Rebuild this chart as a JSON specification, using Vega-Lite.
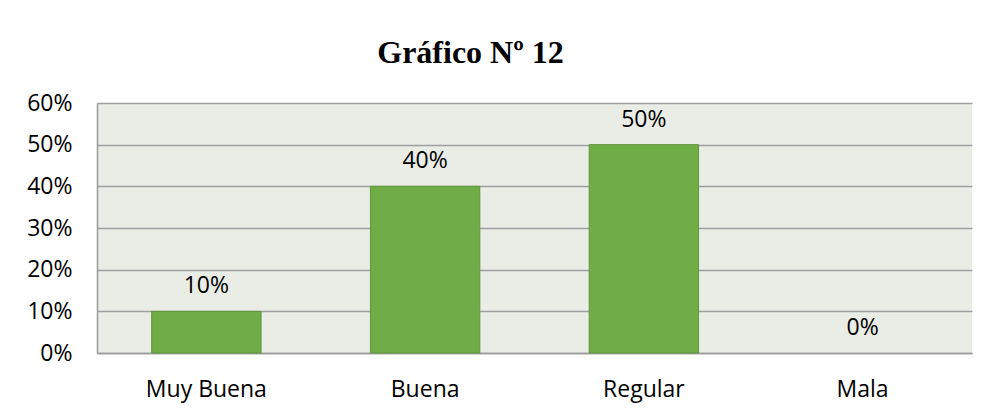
{
  "$schema": "https://vega.github.io/schema/vega-lite/v6.json",
  "autosize": {"type": "none"},
  "padding": {"left": 97, "top": 103, "right": 15, "bottom": 59},
  "width": 875,
  "height": 250,
  "background": "#ffffff",
  "title": {
    "text": "Gráfico Nº 12",
    "font": "Liberation Serif",
    "fontSize": 32,
    "fontWeight": "bold",
    "color": "#000000",
    "anchor": "middle",
    "frame": "group",
    "baseline": "alphabetic",
    "offset": -3,
    "dx": -64
  },
  "data": {
    "values": [
      {"categoria": "Muy Buena", "porcentaje": 0.10},
      {"categoria": "Buena", "porcentaje": 0.40},
      {"categoria": "Regular", "porcentaje": 0.50},
      {"categoria": "Mala", "porcentaje": 0.00}
    ]
  },
  "encoding": {
    "x": {
      "field": "categoria",
      "type": "nominal",
      "sort": null,
      "scale": {"paddingInner": 0.5, "paddingOuter": 0.25},
      "axis": {
        "title": null,
        "labelAngle": 0,
        "ticks": false,
        "labelPadding": 25,
        "labelFont": "Open Sans",
        "labelFontSize": 23,
        "labelColor": "#000000",
        "domainColor": "#9a9a9a",
        "domainWidth": 1.5,
        "grid": false
      }
    },
    "y": {
      "field": "porcentaje",
      "type": "quantitative",
      "scale": {"domain": [0, 0.6], "nice": false},
      "axis": {
        "title": null,
        "values": [0, 0.1, 0.2, 0.3, 0.4, 0.5, 0.6],
        "format": ".0%",
        "ticks": false,
        "labelPadding": 25,
        "labelFont": "Open Sans",
        "labelFontSize": 23,
        "labelColor": "#000000",
        "domainColor": "#9a9a9a",
        "domainWidth": 1.5,
        "grid": true,
        "gridColor": "#9f9f9f",
        "gridWidth": 1.5
      }
    }
  },
  "layer": [
    {
      "mark": {"type": "bar", "color": "#70ad47", "strokeWidth": 1},
      "encoding": {
        "stroke": {"condition": {"test": "datum.porcentaje > 0", "value": "#5e963a"}, "value": null}
      }
    },
    {
      "mark": {"type": "text", "font": "Open Sans", "fontSize": 23, "color": "#000000", "baseline": "alphabetic", "dy": -18},
      "encoding": {
        "text": {"field": "porcentaje", "type": "quantitative", "format": ".0%"}
      }
    }
  ],
  "config": {
    "view": {"fill": "#e9ede6", "stroke": null}
  }
}
